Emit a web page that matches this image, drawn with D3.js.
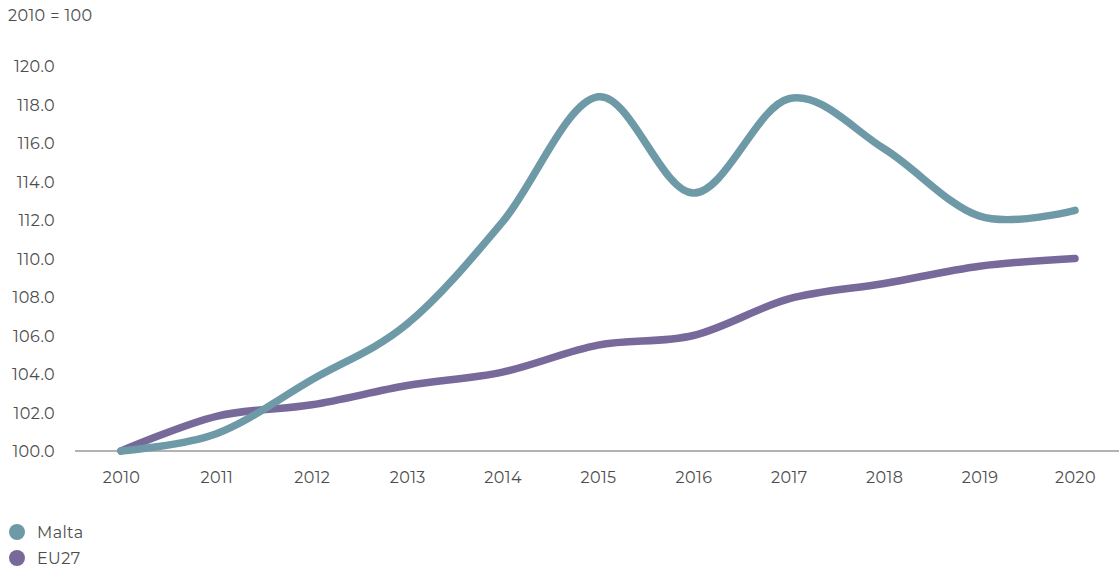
<!DOCTYPE html>
<html>
<head>
<meta charset="utf-8">
<script src="https://cdn.jsdelivr.net/npm/d3@7"></script>
<style>
  body { margin: 0; background: #fff; }
  text { font-family: "Montserrat", "Open Sans", "Noto Sans", sans-serif; letter-spacing: 0.4px; }
</style>
</head>
<body>
<svg id="chart"></svg>
<script>
// データ
const years = ["2010", "2011", "2012", "2013", "2014", "2015", "2016", "2017", "2018", "2019", "2020"];
const malta = [100.0, 100.9, 103.7, 106.6, 111.9, 118.4, 113.4, 118.3, 115.7, 112.2, 112.5];
const eu27 = [100.0, 101.8, 102.4, 103.4, 104.1, 105.5, 106.0, 107.9, 108.7, 109.6, 110.0];
const yTicks = [100, 102, 104, 106, 108, 110, 112, 114, 116, 118, 120];

const series = [
  { name: "Malta", values: malta, color: "#6e9aa8" },
  { name: "EU27", values: eu27, color: "#776a9b" }
];

const size = { width: 1119, height: 572 };
const fontSize = 16;

const svg = d3.select("#chart")
  .attr("width", size.width)
  .attr("height", size.height);

// スケール
const x = d3.scalePoint()
  .domain(years)
  .range([121, 1075]);

const y = d3.scaleLinear()
  .domain([100, 120])
  .range([451, 66]);

// タイトル
svg.append("text")
  .attr("x", 8)
  .attr("y", 21)
  .attr("font-size", fontSize)
  .attr("fill", "#4d4d4d")
  .text("2010 = 100");

// y軸ラベル
svg.append("g")
  .selectAll("text")
  .data(yTicks)
  .join("text")
  .attr("x", 55)
  .attr("y", d => y(d) + 6)
  .attr("text-anchor", "end")
  .attr("font-size", fontSize)
  .attr("fill", "#4d4d4d")
  .text(d => d.toFixed(1));

// x軸
const xAxis = svg.append("g")
  .attr("transform", "translate(0,451)")
  .call(d3.axisBottom(x).tickSize(0).tickPadding(21));
xAxis.select(".domain")
  .attr("d", "M75,0H1119")
  .attr("stroke", "#999")
  .attr("stroke-width", 1.5);
xAxis.selectAll("text")
  .attr("font-size", fontSize)
  .attr("fill", "#4d4d4d")
  .style("font-family", "\"Montserrat\", \"Open Sans\", \"Noto Sans\", sans-serif");

// 線
const line = d3.line()
  .x((d, i) => x(years[i]))
  .y(d => y(d))
  .curve(d3.curveCardinal.tension(0));

series.slice().reverse().forEach(s => {
  svg.append("path")
    .datum(s.values)
    .attr("fill", "none")
    .attr("stroke", s.color)
    .attr("stroke-width", 7.5)
    .attr("stroke-linecap", "round")
    .attr("stroke-linejoin", "round")
    .attr("d", line);
});

// 凡例
const legend = svg.append("g")
  .selectAll("g")
  .data(series)
  .join("g")
  .attr("transform", (d, i) => "translate(0," + (532 + i * 26) + ")");

legend.append("circle")
  .attr("cx", 17)
  .attr("cy", 0)
  .attr("r", 8)
  .attr("fill", d => d.color);

legend.append("text")
  .attr("x", 37)
  .attr("y", 6)
  .attr("font-size", fontSize)
  .attr("fill", "#4d4d4d")
  .text(d => d.name);
</script>
</body>
</html>
